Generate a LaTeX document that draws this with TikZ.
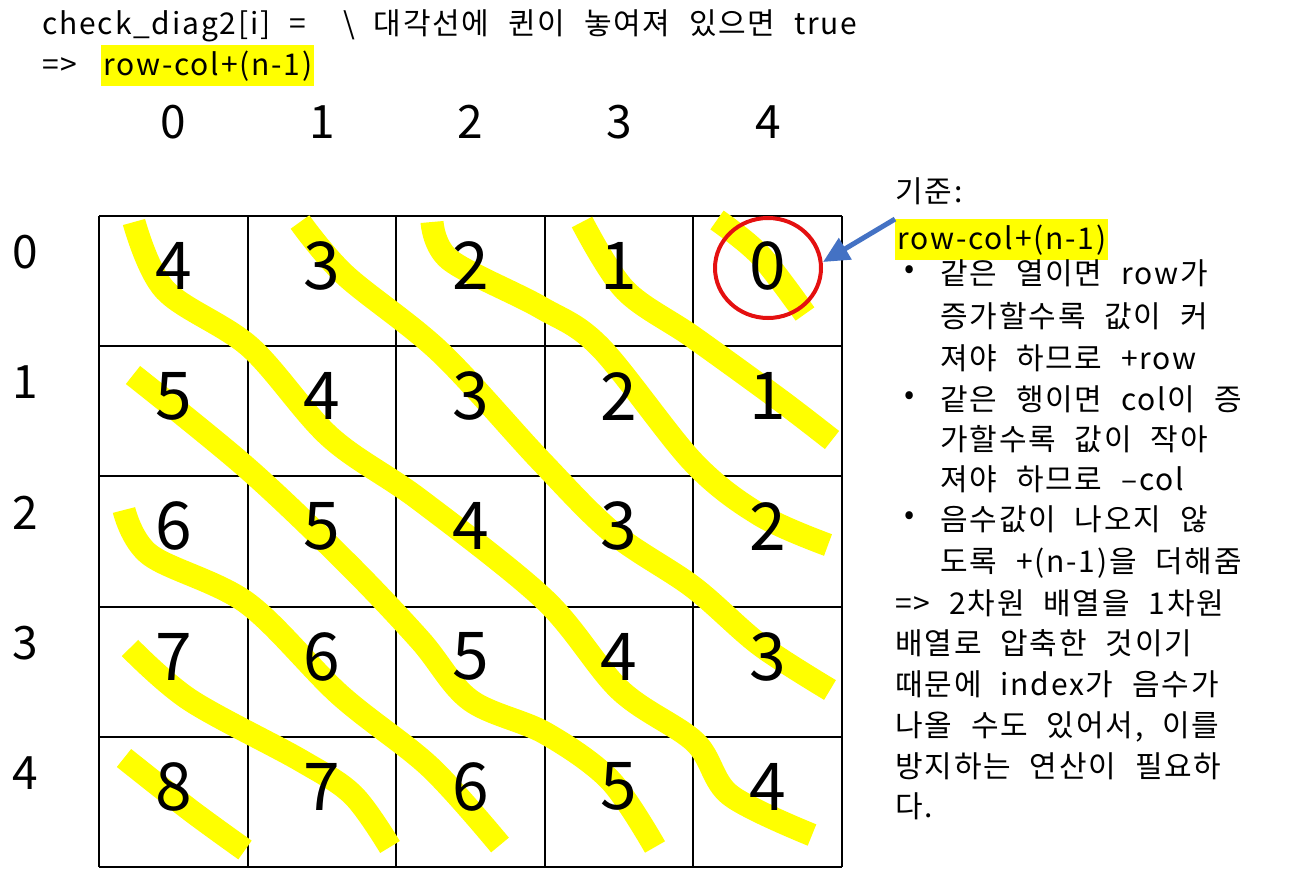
\documentclass[tikz,border=0pt]{standalone}
\usepackage{fontspec}
\setmainfont{Noto Sans CJK KR}[LetterSpace=6,WordSpace=2.2]
\newfontfamily\digitfont{Noto Sans CJK KR}
\usetikzlibrary{arrows.meta,shapes.geometric}
\definecolor{hlyellow}{RGB}{255,255,0}
\definecolor{markred}{RGB}{228,16,16}
\definecolor{arrowblue}{RGB}{68,114,196}
\tikzset{
  txt/.style={anchor=base west, inner sep=0pt, font=\fontsize{15}{18}\selectfont},
  hl/.style={txt, fill=hlyellow, inner ysep=2.5pt, inner xsep=1pt},
  dot/.style={inner sep=0pt, font=\fontsize{15}{18}\selectfont},
  num/.style={inner sep=0pt, font=\digitfont\fontsize{33}{38}\selectfont},
  idx/.style={inner sep=0pt, font=\digitfont\fontsize{23}{27}\selectfont},
  marker/.style={draw=hlyellow, line width=11.5pt, line cap=butt, line join=round},
}
\begin{document}
\begin{tikzpicture}[x=0.5pt,y=-0.5pt]
\useasboundingbox (0,0) rectangle (1308,889);

% heading
\node[txt] (title) at (42,34) {check\_diag2[i] = \ \textbackslash{} 대각선에 퀸이 놓여져 있으면 true};
\node[txt] (impl) at (42,75) {=>};
\node[hl] (formula) at (101,75) {row-col+(n-1)};

% indices
\foreach \c in {0,...,4}
  \node[idx] (col\c) at ({173.5+148.6*\c},122) {\c};
\foreach \r in {0,...,4}
  \node[idx] (row\r) at (25,{252+130.2*\r}) {\r};

% board
\foreach \i in {0,...,5} {
  \draw[line width=1pt] ({99+148.6*\i},216) -- ({99+148.6*\i},867);
  \draw[line width=1pt] (99,{216+130.2*\i}) -- (842,{216+130.2*\i});
}

% highlighter
\draw[marker] plot[smooth, tension=0.55] coordinates {(134,222) (165,290) (250,347) (330,437) (420,500) (545,600) (620,690) (695,742) (730,795) (812,835)};
\draw[marker] plot[smooth, tension=0.55] coordinates {(300,222) (345,275) (440,352) (540,460) (613,533) (693,587) (760,645) (830,690)};
\draw[marker] plot[smooth, tension=0.55] coordinates {(432,222) (450,260) (540,307) (600,347) (693,462) (760,515) (828,545)};
\draw[marker] plot[smooth, tension=0.55] coordinates {(582,222) (625,290) (693,337) (780,400) (832,440)};
\draw[marker] plot[smooth, tension=0.55] coordinates {(717,220) (760,255) (805,314)};
\draw[marker] plot[smooth, tension=0.55] coordinates {(133,375) (247,468) (347,563) (420,640) (470,700) (545,733) (610,780) (655,847)};
\draw[marker] plot[smooth, tension=0.55] coordinates {(124,510) (150,555) (247,603) (340,695) (430,767) (500,845)};
\draw[marker] plot[smooth, tension=0.55] coordinates {(130,648) (190,700) (300,760) (353,795) (390,847)};
\draw[marker] plot[smooth, tension=0.55] coordinates {(124,758) (190,810) (245,850)};

% values row-col+(n-1)
\foreach \r in {0,...,4}
  \foreach \c in {0,...,4} {
    \pgfmathtruncatemacro\v{\r-\c+4}
    \node[num] (v\r\c) at ({173.5+148.6*\c},{266+130.2*\r}) {\v};
  }

\node[draw=markred, line width=2pt, ellipse, minimum width=53pt, minimum height=50pt] (ring) at (768,268) {};

% notes
\node[txt] (basis) at (895,202) {기준:};
\node[hl] (rule) at (895,249) {row-col+(n-1)};
\node[dot] (b1) at (910,272) {\textbullet};
\node[txt] (r1) at (940,284) {같은 열이면 row가};
\node[txt] (r2) at (940,327) {증가할수록 값이 커};
\node[txt] (r3) at (940,369) {져야 하므로 +row};
\node[dot] (b2) at (910,398) {\textbullet};
\node[txt] (r4) at (940,410) {같은 행이면 col이 증};
\node[txt] (r5) at (940,450) {가할수록 값이 작아};
\node[txt] (r6) at (940,490) {져야 하므로 –col};
\node[dot] (b3) at (910,518) {\textbullet};
\node[txt] (r7) at (940,530) {음수값이 나오지 않};
\node[txt] (r8) at (940,572) {도록 +(n-1)을 더해줌};
\node[txt] (s1) at (895,614) {=> 2차원 배열을 1차원};
\node[txt] (s2) at (895,654) {배열로 압축한 것이기};
\node[txt] (s3) at (895,695) {때문에 index가 음수가};
\node[txt] (s4) at (895,736) {나올 수도 있어서, 이를};
\node[txt] (s5) at (895,777) {방지하는 연산이 필요하};
\node[txt] (s6) at (895,817) {다.};

\draw[arrowblue, line width=2.5pt, -{Triangle[length=13pt,width=12pt]}] (rule.north west) -- ([yshift=3pt]ring.east);
\end{tikzpicture}
\end{document}
